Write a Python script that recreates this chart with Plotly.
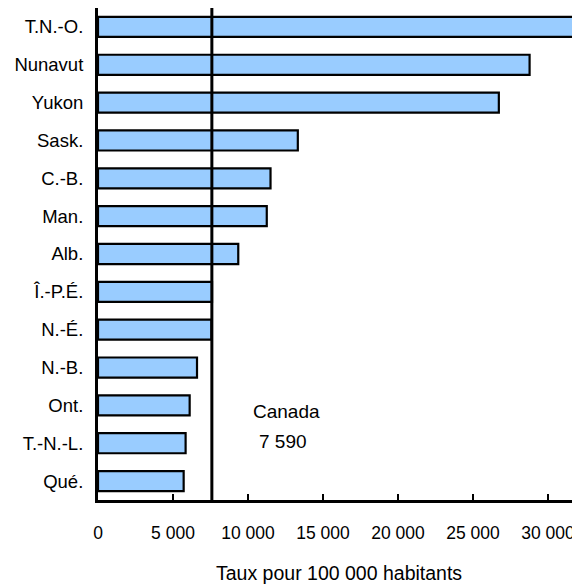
import plotly.graph_objects as go

categories = ["T.N.-O.", "Nunavut", "Yukon", "Sask.", "C.-B.", "Man.", "Alb.",
              "Î.-P.É.", "N.-É.", "N.-B.", "Ont.", "T.-N.-L.", "Qué."]
rates = [41000, 28770, 26720, 13320, 11500, 11250, 9350,
         7600, 7560, 6600, 6110, 5840, 5710]
canada_rate = 7590
canada_name = "Canada"
canada_value_label = "7 590"
x_ticks = [0, 5000, 10000, 15000, 20000, 25000, 30000]
x_ticklabels = ["0", "5 000", "10 000", "15 000", "20 000", "25 000", "30 000"]
x_title = "Taux pour 100 000 habitants"

FONT = "Liberation Sans, Arial, sans-serif"

fig = go.Figure()
fig.add_trace(go.Bar(
    y=categories, x=rates, orientation="h",
    marker=dict(color="#99CCFF", line=dict(color="black", width=2.2)),
    width=0.53, hoverinfo="skip",
))

fig.add_shape(type="line", xref="x", yref="paper",
              x0=canada_rate, x1=canada_rate, y0=-0.006, y1=1,
              line=dict(color="black", width=3), layer="above")

fig.add_annotation(x=12550, y=10.15, xref="x", yref="y",
                   text=canada_name, showarrow=False,
                   font=dict(family=FONT, size=19, color="black"))
fig.add_annotation(x=12300, y=10.95, xref="x", yref="y",
                   text=canada_value_label, showarrow=False,
                   font=dict(family=FONT, size=19, color="black"))

fig.add_annotation(x=0.5, y=-0.148, xref="paper", yref="paper",
                   xanchor="center", yanchor="middle",
                   text=x_title, showarrow=False,
                   font=dict(family=FONT, size=19.5, color="black"))

fig.update_layout(
    width=572, height=577,
    margin=dict(l=90, r=0, t=0, b=85),
    paper_bgcolor="white", plot_bgcolor="white",
    showlegend=False,
    font=dict(family=FONT, color="black"),
    xaxis=dict(range=[0, 32130], tickvals=x_ticks, ticktext=x_ticklabels,
               ticks="inside", ticklen=6, tickwidth=2, tickcolor="black",
               showline=True, linecolor="black", linewidth=2.5, mirror=True,
               showgrid=False, zeroline=False, automargin=False,
               tickfont=dict(family=FONT, size=17.5, color="black"),
               ticklabelstandoff=15, fixedrange=True),
    yaxis=dict(autorange="reversed", categoryorder="array", categoryarray=categories,
               showline=True, linecolor="black", linewidth=3,
               ticks="", showgrid=False, zeroline=False, automargin=False,
               tickfont=dict(family=FONT, size=18.5, color="black"),
               ticklabelstandoff=8, fixedrange=True),
    bargap=0.47,
)

fig.write_html("out.html")
